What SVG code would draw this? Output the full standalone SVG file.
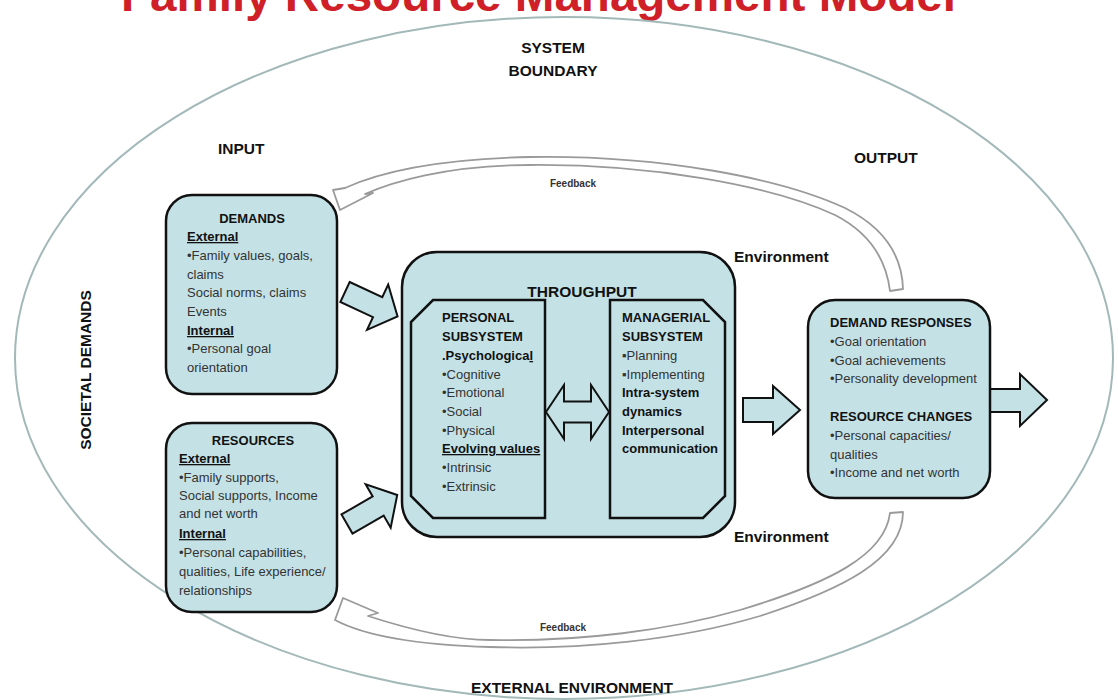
<svg xmlns="http://www.w3.org/2000/svg" width="1118" height="700" viewBox="0 0 1118 700">
<style>
.t{font-family:"Liberation Sans",Arial,sans-serif;font-size:13px;fill:#333}
.b{font-weight:bold;fill:#111}
.u{text-decoration:underline}
.lbl{font-family:"Liberation Sans",Arial,sans-serif;font-size:15.5px;font-weight:bold;fill:#111}
.fbt{font-family:"Liberation Sans",Arial,sans-serif;font-size:10px;font-weight:bold;fill:#333}
.box{fill:#c4e2e6;stroke:#111;stroke-width:2.5}
.arr{fill:#c4e2e6;stroke:#111;stroke-width:2;stroke-linejoin:miter}
.fb{fill:#fff;stroke:#9a9a9a;stroke-width:1.8;stroke-linejoin:round}
</style>
<rect width="1118" height="700" fill="#fff"/>
<text x="121" y="11" font-family="'Liberation Sans',Arial,sans-serif" font-size="46" font-weight="bold" fill="#cf2027" textLength="835" lengthAdjust="spacingAndGlyphs">Family Resource Management Model</text>
<g id="boundary">
<ellipse cx="564" cy="358" rx="549" ry="341" fill="none" stroke="#a3b8b8" stroke-width="2"/>
</g>
<g id="labels">
<text class="lbl" x="553" y="53" text-anchor="middle">SYSTEM</text>
<text class="lbl" x="553" y="76" text-anchor="middle">BOUNDARY</text>
<text class="lbl" x="218" y="154">INPUT</text>
<text class="lbl" x="854" y="163">OUTPUT</text>
<text class="lbl" x="734" y="262">Environment</text>
<text class="lbl" x="734" y="542">Environment</text>
<text class="lbl" x="572" y="693" text-anchor="middle">EXTERNAL ENVIRONMENT</text>
<text class="lbl" transform="translate(91,370) rotate(-90)" text-anchor="middle">SOCIETAL DEMANDS</text>
</g>
<g id="connectors">
<path id="feedback-top" class="fb" d="M903,289 C902,255 885,228 845,208 C780,178 660,155 530,157 C440,159 380,172 345,188 L333,190 L340,210 L373,193 L365,194 C390,183 445,165 530,165 C650,164 770,185 835,215 C868,232 886,258 890,291 Z"/>
<path id="feedback-bottom" class="fb" d="M903,512 C903,560 840,590 760,616 C680,640 580,650 490,647 C420,645 365,636 335,620 L343,598 L378,613 L368,616 C405,628 450,640 490,640 C580,642 670,630 740,610 C830,583 885,555 890,513 Z"/>
<text class="fbt" x="573" y="187" text-anchor="middle">Feedback</text>
<text class="fbt" x="563" y="631" text-anchor="middle">Feedback</text>
<path id="arrow-demands" class="arr" transform="translate(345,292) rotate(25)" d="M0,-11 L36,-11 L36,-25 L58,0 L36,25 L36,11 L0,11 Z"/>
<path id="arrow-resources" class="arr" transform="translate(347,524) rotate(-30)" d="M0,-11 L36,-11 L36,-25 L58,0 L36,25 L36,11 L0,11 Z"/>
<path id="arrow-through-out" class="arr" d="M743,398 L773,398 L773,386 L800,410 L773,434 L773,422 L743,422 Z"/>
<path id="arrow-output" class="arr" d="M990,389 L1020,389 L1020,374 L1047,400 L1020,426 L1020,412 L990,412 Z"/>
</g>
<g id="demands">
<rect class="box" x="166" y="195" width="171" height="199" rx="26"/>
<text class="t b" x="252" y="223" text-anchor="middle">DEMANDS</text>
<text class="t b u" x="187" y="241">External</text>
<text class="t" x="187" y="260">•Family values, goals,</text>
<text class="t" x="187" y="279">claims</text>
<text class="t" x="187" y="297">Social norms, claims</text>
<text class="t" x="187" y="316">Events</text>
<text class="t b u" x="187" y="335">Internal</text>
<text class="t" x="187" y="353">•Personal goal</text>
<text class="t" x="187" y="372">orientation</text>
</g>
<g id="resources">
<rect class="box" x="166" y="423" width="171" height="189" rx="26"/>
<text class="t b" x="253" y="445" text-anchor="middle">RESOURCES</text>
<text class="t b u" x="179" y="463">External</text>
<text class="t" x="179" y="482">•Family supports,</text>
<text class="t" x="179" y="500">Social supports, Income</text>
<text class="t" x="179" y="518">and net worth</text>
<text class="t b u" x="179" y="538">Internal</text>
<text class="t" x="179" y="557">•Personal capabilities,</text>
<text class="t" x="179" y="576">qualities, Life experience/</text>
<text class="t" x="179" y="595">relationships</text>
</g>
<g id="throughput">
<rect class="box" x="402" y="252" width="333" height="285" rx="35"/>
<text class="lbl" x="582" y="297" text-anchor="middle">THROUGHPUT</text>
</g>
<g id="personal-subsystem">
<polygon class="box" points="433,300 545,300 545,518 433,518 411,496 411,322"/>
<text class="t b" x="442" y="322">PERSONAL</text>
<text class="t b" x="442" y="341">SUBSYSTEM</text>
<text class="t b" x="442" y="360">.Psychologica<tspan class="u">l</tspan></text>
<text class="t" x="442" y="379">•Cognitive</text>
<text class="t" x="442" y="397">•Emotional</text>
<text class="t" x="442" y="416">•Social</text>
<text class="t" x="442" y="435">•Physical</text>
<text class="t b u" x="442" y="453">Evolving values</text>
<text class="t" x="442" y="472">•Intrinsic</text>
<text class="t" x="442" y="491">•Extrinsic</text>
</g>
<g id="managerial-subsystem">
<polygon class="box" points="610,300 703,300 725,322 725,496 703,518 610,518"/>
<text class="t b" x="622" y="322">MANAGERIAL</text>
<text class="t b" x="622" y="341">SUBSYSTEM</text>
<text class="t" x="622" y="360">▪Planning</text>
<text class="t" x="622" y="379">▪Implementing</text>
<text class="t b" x="622" y="397">Intra-system</text>
<text class="t b" x="622" y="416">dynamics</text>
<text class="t b" x="622" y="435">Interpersonal</text>
<text class="t b" x="622" y="453">communication</text>
</g>
<g id="interaction-arrow">
<path class="arr" d="M546,412 L564,385 L564,401.5 L591,401.5 L591,385 L609,412 L591,439 L591,422.5 L564,422.5 L564,439 Z"/>
</g>
<g id="output">
<rect class="box" x="808" y="300" width="182" height="198" rx="27"/>
<text class="t b" x="830" y="327">DEMAND RESPONSES</text>
<text class="t" x="830" y="346">•Goal orientation</text>
<text class="t" x="830" y="365">•Goal achievements</text>
<text class="t" x="830" y="383">•Personality development</text>
<text class="t b" x="830" y="421">RESOURCE CHANGES</text>
<text class="t" x="830" y="440">•Personal capacities/</text>
<text class="t" x="830" y="459">qualities</text>
<text class="t" x="830" y="477">•Income and net worth</text>
</g>
</svg>
